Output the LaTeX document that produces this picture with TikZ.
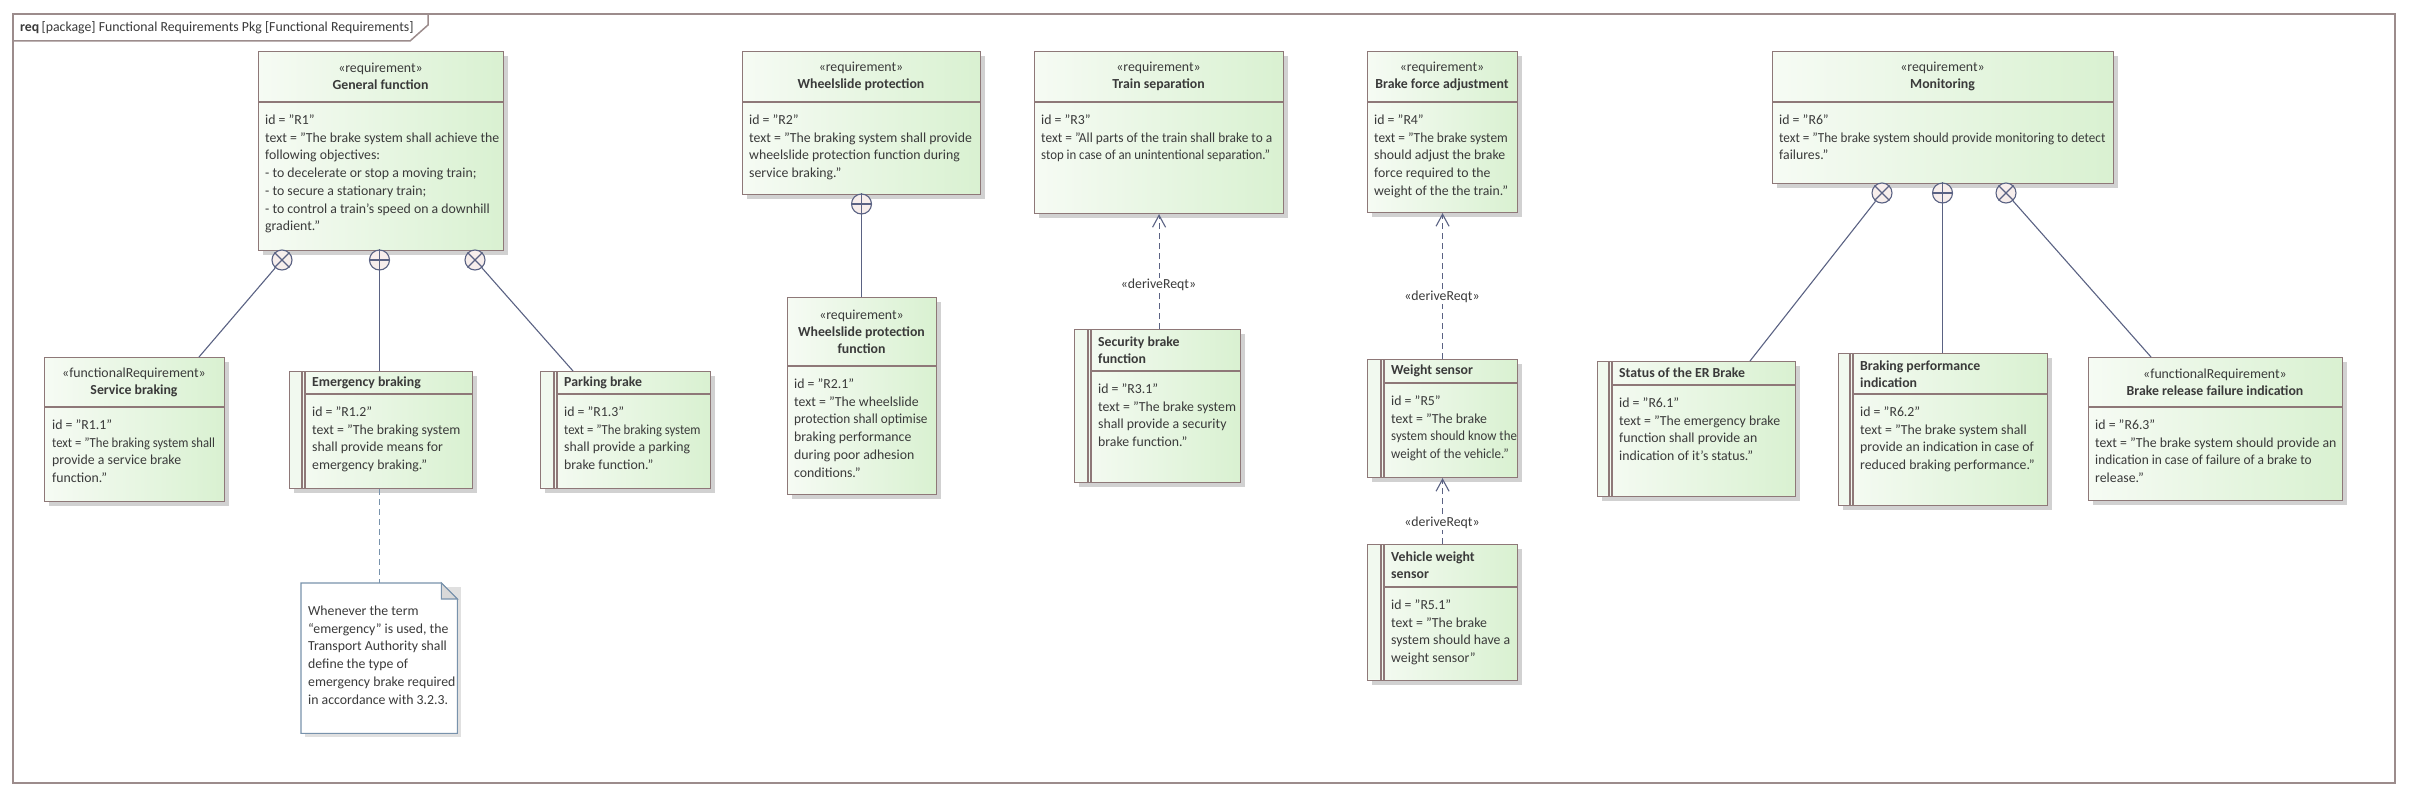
\documentclass[tikz,border=0pt]{standalone}
\usepackage{fontspec}
\usepackage{graphicx}
\setmainfont{Carlito}
\usetikzlibrary{arrows.meta,shadows}
\definecolor{bL}{HTML}{F6FBF4}
\definecolor{bR}{HTML}{D9F1D1}
\definecolor{bord}{HTML}{8E7878}
\definecolor{connc}{HTML}{5A6283}
\definecolor{cfill}{HTML}{F7EEEC}
\definecolor{txt}{HTML}{3A3A3A}
\definecolor{frm}{HTML}{9C8C8C}
\definecolor{notebd}{HTML}{7892AC}
\definecolor{barfill}{HTML}{F1F9EF}
\newcommand\bodyf{\fontsize{13.8}{17.7}\selectfont}
\newcommand\hdrf{\fontsize{13.8}{17}\selectfont}
\newcommand\sq[2]{\scalebox{#1}[1]{#2}}
\tikzset{
 rbox/.style={draw=bord, line width=1.1pt, left color=bL, right color=bR, inner sep=0pt,
   general shadow={fill=black!18, shadow xshift=4pt, shadow yshift=-4pt}},
 rline/.style={draw=bord, line width=1.1pt},
 btxt/.style={anchor=north west, inner sep=0pt, align=left, font=\bodyf, text=txt},
 htxt/.style={inner sep=0pt, align=center, font=\hdrf, text=txt},
 hltxt/.style={inner sep=0pt, anchor=west, align=left, font=\hdrf\bfseries, text=txt},
 conn/.style={draw=connc, line width=1.1pt},
 circ/.style={circle, draw=connc, fill=cfill, line width=1.1pt, minimum size=20pt, inner sep=0pt},
 dep/.style={draw=connc, line width=1.1pt, dash pattern=on 6pt off 4pt},
 dtip/.style={-{Straight Barb[length=12pt,width=13pt]}},
 lbl/.style={fill=white, inner sep=1.5pt, font=\bodyf, text=txt}
}
% name, left, top, right, bottom
\newcommand\rbox[5]{\node[rbox, minimum width=#4-#2, minimum height=#5-#3, anchor=north west] (#1) at (#2,#3) {};}
% x1, x2, y
\newcommand\hdiv[3]{\draw[rline] (#1,#3) -- (#2,#3);}
% left, top, bottom, barx
\newcommand\rbar[4]{\fill[barfill] (#1+0.6,#2+0.6) rectangle (#4,#3-0.6);
 \draw[rline] (#4,#2) -- (#4,#3) (#4+3,#2) -- (#4+3,#3);}
\newcommand\xcirc[2]{\node[circ] (#1) at (#2) {};\draw[conn] (#1.45)--(#1.225) (#1.135)--(#1.315);}
\newcommand\pcirc[2]{\node[circ] (#1) at (#2) {};\draw[conn] (#1.north)--(#1.south) (#1.east)--(#1.west);}
\begin{document}
\begin{tikzpicture}[x=1pt,y=-1pt]
\useasboundingbox (0,0) rectangle (2417,800);
\fill[white] (0,0) rectangle (2417,800);
% frame
\draw[frm, line width=1.5pt] (13,14) rectangle (2395,783);
\draw[frm, line width=1.5pt] (13,41) -- (410,41) -- (428,25) -- (428,14);
\node[anchor=west, inner sep=0pt, font=\bodyf, text=txt] (title) at (20,27.5) {\textbf{req}\,[package] Functional Requirements Pkg [Functional Requirements]};

% ---------- General function
\rbox{gf}{258}{51}{503}{250}\hdiv{258}{503}{102}
\node[htxt] (gf-h) at (380.5,76.5) {«requirement»\\\textbf{General function}};
\node[btxt] (gf-b) at (265,112) {\strut id = "R1"\\text = "The brake system shall achieve the\\following objectives:\\- to decelerate or stop a moving train;\\- to secure a stationary train;\\- to control a train's speed on a downhill\\gradient."};

% Service braking
\rbox{sb}{44}{357}{224}{501}\hdiv{44}{224}{407}
\node[htxt] (sb-h) at (134,382) {«functionalRequirement»\\\textbf{Service braking}};
\node[btxt] (sb-b) at (52,417) {\strut id = "R1.1"\\\sq{0.92}{text = "The braking system shall}\\provide a service brake\\function."};

% Emergency braking
\rbox{eb}{289}{371}{472}{488}\rbar{289}{371}{488}{302}\hdiv{305}{472}{394}
\node[hltxt] (eb-h) at (312,383) {Emergency braking};
\node[btxt] (eb-b) at (312,404) {\strut id = "R1.2"\\text = "The braking system\\shall provide means for\\emergency braking."};

% Parking brake
\rbox{pb}{540}{371}{710}{488}\rbar{540}{371}{488}{554}\hdiv{557}{710}{394}
\node[hltxt] (pb-h) at (564,383) {Parking brake};
\node[btxt] (pb-b) at (564,404) {\strut id = "R1.3"\\\sq{0.92}{text = "The braking system}\\shall provide a parking\\brake function."};

% Note
\node[inner sep=0pt, minimum width=156, minimum height=150, anchor=north west] (note) at (301,583) {};
\fill[black!12] (305,587) -- (461,587) -- (461,737) -- (305,737) -- cycle;
\draw[notebd, fill=white, line width=1.1pt] (note.north west) -- ([xshift=-16pt]note.north east) -- ([yshift=-16pt]note.north east) -- (note.south east) -- (note.south west) -- cycle;
\draw[notebd, fill=black!15, line width=1.1pt] ([xshift=-16pt]note.north east) -- ([xshift=-16pt,yshift=-16pt]note.north east) -- ([yshift=-16pt]note.north east) -- cycle;
\node[btxt] (note-t) at (308,603) {\strut Whenever the term\\“emergency” is used, the\\Transport Authority shall\\define the type of\\emergency brake required\\in accordance with 3.2.3.};

% Wheelslide protection
\rbox{wp}{742}{51}{980}{194}\hdiv{742}{980}{102}
\node[htxt] (wp-h) at (861,76.5) {«requirement»\\\textbf{Wheelslide protection}};
\node[btxt] (wp-b) at (749,112) {\strut id = "R2"\\text = "The braking system shall provide\\wheelslide protection function during\\service braking."};

% Wheelslide protection function
\rbox{wpf}{787}{297}{936}{494}\hdiv{787}{936}{366}
\node[htxt] (wpf-h) at (861.5,331.5) {«requirement»\\\textbf{Wheelslide protection}\\\textbf{function}};
\node[btxt] (wpf-b) at (794,376) {\strut id = "R2.1"\\text = "The wheelslide\\\sq{0.96}{protection shall optimise}\\braking performance\\during poor adhesion\\conditions."};

% Train separation
\rbox{ts}{1034}{51}{1283}{213}\hdiv{1034}{1283}{102}
\node[htxt] (ts-h) at (1158.5,76.5) {«requirement»\\\textbf{Train separation}};
\node[btxt] (ts-b) at (1041,112) {\strut id = "R3"\\\sq{0.97}{text = "All parts of the train shall brake to a}\\\sq{0.93}{stop in case of an unintentional separation."}};

% Security brake function
\rbox{sbf}{1074}{329}{1240}{482}\rbar{1074}{329}{482}{1088}\hdiv{1091}{1240}{371}
\node[hltxt] (sbf-h) at (1098,350) {Security brake\\function};
\node[btxt] (sbf-b) at (1098,381) {\strut id = "R3.1"\\text = "The brake system\\shall provide a security\\brake function."};

% Brake force adjustment
\rbox{bfa}{1367}{51}{1517}{212}\hdiv{1367}{1517}{102}
\node[htxt] (bfa-h) at (1442,76.5) {«requirement»\\\textbf{Brake force adjustment}};
\node[btxt] (bfa-b) at (1374,112) {\strut id = "R4"\\\sq{0.97}{text = "The brake system}\\should adjust the brake\\force required to the\\weight of the the train."};

% Weight sensor
\rbox{ws}{1367}{359}{1517}{477}\rbar{1367}{359}{477}{1381}\hdiv{1384}{1517}{383}
\node[hltxt] (ws-h) at (1391,371) {Weight sensor};
\node[btxt] (ws-b) at (1391,393) {\strut id = "R5"\\text = "The brake\\\sq{0.93}{system should know the}\\\sq{0.94}{weight of the vehicle."}};

% Vehicle weight sensor
\rbox{vws}{1367}{544}{1517}{680}\rbar{1367}{544}{680}{1381}\hdiv{1384}{1517}{587}
\node[hltxt] (vws-h) at (1391,565.5) {Vehicle weight\\sensor};
\node[btxt] (vws-b) at (1391,597) {\strut id = "R5.1"\\text = "The brake\\system should have a\\weight sensor"};

% Monitoring
\rbox{mon}{1772}{51}{2113}{183}\hdiv{1772}{2113}{102}
\node[htxt] (mon-h) at (1942.5,76.5) {«requirement»\\\textbf{Monitoring}};
\node[btxt] (mon-b) at (1779,112) {\strut id = "R6"\\\sq{0.95}{text = "The brake system should provide monitoring to detect}\\failures."};

% Status of the ER Brake
\rbox{ser}{1597}{361}{1795}{496}\rbar{1597}{361}{496}{1609}\hdiv{1612}{1795}{385}
\node[hltxt] (ser-h) at (1619,373) {Status of the ER Brake};
\node[btxt] (ser-b) at (1619,395) {\strut id = "R6.1"\\text = "The emergency brake\\function shall provide an\\indication of it's status."};

% Braking performance indication
\rbox{bpi}{1838}{353}{2047}{505}\rbar{1838}{353}{505}{1850}\hdiv{1853}{2047}{394}
\node[hltxt] (bpi-h) at (1860,374) {Braking performance\\indication};
\node[btxt] (bpi-b) at (1860,404) {\strut id = "R6.2"\\text = "The brake system shall\\provide an indication in case of\\reduced braking performance."};

% Brake release failure indication
\rbox{brf}{2088}{357}{2342}{500}\hdiv{2088}{2342}{407}
\node[htxt] (brf-h) at (2215,382) {«functionalRequirement»\\\textbf{Brake release failure indication}};
\node[btxt] (brf-b) at (2095,417) {\strut id = "R6.3"\\text = "The brake system should provide an\\\sq{0.97}{indication in case of failure of a brake to}\\release."};

% ---------- connectors
\coordinate (sbT) at (199,357);
\coordinate (pbT) at (573,371);
\coordinate (serT) at (1750,361);
\coordinate (brfT) at (2151,357);
\xcirc{gx1}{282,260}
\pcirc{gp}{379.5,260}
\xcirc{gx2}{475,260}
\pcirc{wpp}{861.5,204}
\xcirc{mx1}{1882,193}
\pcirc{mp}{1942.5,193}
\xcirc{mx2}{2006,193}
\draw[conn] (gx1) -- (sbT);
\draw[conn] (gp) -- (gp |- eb.north);
\draw[conn] (gx2) -- (pbT);
\draw[conn] (wpp) -- (wpp |- wpf.north);
\draw[conn] (mx1) -- (serT);
\draw[conn] (mp) -- (mp |- bpi.north);
\draw[conn] (mx2) -- (brfT);

% note link
\draw[dep, draw=notebd] (eb.south -| note.north) -- (note.north);

% deriveReqt
\draw[dep, dtip] (sbf.north -| ts.south) -- (ts.south);
\draw[dep, dtip] (ws.north) -- (bfa.south);
\draw[dep, dtip] (vws.north) -- (ws.south);
\node[lbl] (d1) at (1158.5,285) {«deriveReqt»};
\node[lbl] (d2) at (1442,297) {«deriveReqt»};
\node[lbl] (d3) at (1442,523) {«deriveReqt»};
\end{tikzpicture}
\end{document}
